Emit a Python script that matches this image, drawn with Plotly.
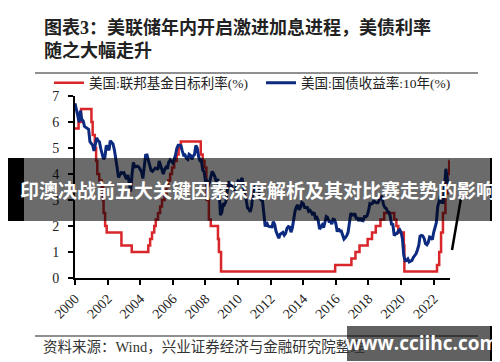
import plotly.graph_objects as go
import pandas as pd

# ---- data ----
fed_dates = ["2000-01-01", "2000-03-21", "2000-05-16",
             "2001-01-03", "2001-01-31", "2001-03-20", "2001-04-18", "2001-05-15", "2001-06-27",
             "2001-08-21", "2001-09-17", "2001-10-02", "2001-11-06", "2001-12-11",
             "2002-11-06", "2003-06-25",
             "2004-06-30", "2004-08-10", "2004-09-21", "2004-11-10", "2004-12-14",
             "2005-02-02", "2005-03-22", "2005-05-03", "2005-06-30", "2005-08-09", "2005-09-20",
             "2005-11-01", "2005-12-13",
             "2006-01-31", "2006-03-28", "2006-05-10", "2006-06-29",
             "2007-09-18", "2007-10-31", "2007-12-11",
             "2008-01-22", "2008-01-30", "2008-03-18", "2008-04-30", "2008-10-08", "2008-10-29", "2008-12-16",
             "2015-12-16", "2016-12-14", "2017-03-15", "2017-06-14", "2017-12-13",
             "2018-03-21", "2018-06-13", "2018-09-26", "2018-12-19",
             "2019-07-31", "2019-09-18", "2019-10-30",
             "2020-03-03", "2020-03-15",
             "2022-03-16", "2022-05-04", "2022-06-15", "2022-07-27", "2022-09-21", "2022-11-02",
             "2022-12-14", "2022-12-20"]
fed_rate = [5.75, 6.0, 6.5,
            6.0, 5.5, 5.0, 4.5, 4.0, 3.75,
            3.5, 3.0, 2.5, 2.0, 1.75,
            1.25, 1.0,
            1.25, 1.5, 1.75, 2.0, 2.25,
            2.5, 2.75, 3.0, 3.25, 3.5, 3.75,
            4.0, 4.25,
            4.5, 4.75, 5.0, 5.25,
            4.75, 4.5, 4.25,
            3.5, 3.0, 2.25, 2.0, 1.5, 1.0, 0.25,
            0.5, 0.75, 1.0, 1.25, 1.5,
            1.75, 2.0, 2.25, 2.5,
            2.25, 2.0, 1.75,
            1.25, 0.25,
            0.5, 1.0, 1.75, 2.5, 3.25, 4.0,
            4.5, 4.5]

ust10y = [
    6.72, 6.52, 6.26, 5.99, 6.44, 6.10, 6.05, 5.83, 5.80, 5.74, 5.72, 5.24,
    5.16, 5.10, 4.89, 5.14, 5.39, 5.28, 5.24, 4.97, 4.73, 4.57, 4.65, 5.09,
    5.04, 4.91, 5.28, 5.21, 5.16, 4.93, 4.65, 4.26, 3.87, 3.94, 4.05, 4.03,
    4.05, 3.90, 3.81, 3.96, 3.57, 3.33, 3.98, 4.45, 4.27, 4.29, 4.30, 4.27,
    4.15, 4.08, 3.83, 4.35, 4.72, 4.73, 4.50, 4.28, 4.13, 4.10, 4.19, 4.23,
    4.22, 4.17, 4.50, 4.34, 4.14, 4.00, 4.18, 4.26, 4.20, 4.46, 4.54, 4.47,
    4.42, 4.57, 4.72, 4.99, 5.11, 5.11, 5.09, 4.88, 4.72, 4.73, 4.60, 4.56,
    4.76, 4.72, 4.56, 4.69, 4.75, 5.10, 5.00, 4.67, 4.52, 4.53, 4.15, 4.10,
    3.74, 3.74, 3.51, 3.68, 3.88, 4.10, 4.01, 3.89, 3.69, 3.81, 3.53, 2.42,
    2.52, 2.87, 2.82, 2.93, 3.29, 3.72, 3.56, 3.59, 3.40, 3.39, 3.40, 3.59,
    3.73, 3.69, 3.73, 3.85, 3.42, 3.20, 3.01, 2.70, 2.65, 2.54, 2.76, 3.29,
    3.39, 3.58, 3.41, 3.46, 3.17, 3.00, 3.00, 2.30, 1.98, 2.15, 2.01, 1.98,
    1.97, 1.97, 2.17, 2.05, 1.80, 1.62, 1.53, 1.68, 1.72, 1.75, 1.65, 1.72,
    1.91, 1.98, 1.96, 1.76, 1.93, 2.30, 2.58, 2.74, 2.81, 2.62, 2.72, 2.90,
    2.86, 2.71, 2.72, 2.71, 2.56, 2.60, 2.54, 2.42, 2.53, 2.30, 2.33, 2.21,
    1.88, 1.98, 2.04, 1.94, 2.20, 2.36, 2.32, 2.17, 2.17, 2.07, 2.26, 2.24,
    2.09, 1.78, 1.89, 1.81, 1.81, 1.64, 1.50, 1.56, 1.63, 1.76, 2.14, 2.49,
    2.43, 2.42, 2.48, 2.30, 2.30, 2.19, 2.32, 2.21, 2.20, 2.36, 2.35, 2.40,
    2.58, 2.86, 2.84, 2.87, 2.98, 2.91, 2.89, 2.89, 3.00, 3.15, 3.12, 2.83,
    2.71, 2.68, 2.57, 2.53, 2.40, 2.07, 2.06, 1.63, 1.70, 1.71, 1.81, 1.86,
    1.76, 1.50, 0.87, 0.66, 0.67, 0.73, 0.62, 0.65, 0.68, 0.79, 0.87, 0.93,
    1.08, 1.26, 1.61, 1.64, 1.62, 1.52, 1.32, 1.28, 1.37, 1.58, 1.56, 1.47,
    1.76, 1.93, 2.13, 2.75, 2.90, 3.14, 2.90, 2.90, 3.52, 4.20, 3.80, 3.62,
]
ust_dates = pd.date_range("2000-01-01", periods=len(ust10y), freq="MS")

y_ticks = [0, 1, 2, 3, 4, 5, 6, 7]

title_text = "<b>图表3：美联储年内开启激进加息进程，美债利率<br>随之大幅走升</b>"
source_text = "资料来源：Wind，兴业证券经济与金融研究院整理"
overlay_text = "<b>印澳决战前五大关键因素深度解析及其对比赛走势的影响</b>"
watermark_text = "<b>www.cciihc.com</b>"

# ---- layout geometry (pixels) ----
W, H = 500, 362
L, R, T, B = 67, 58, 0, 92
PW, PH = W - L - R, H - T - B
PLOT_TOP = 88  # pixel row of y = 7


def px(x):
    return (x - L) / PW


def py(y):
    return (H - B - y) / PH


SERIF = "Liberation Serif, Noto Sans CJK SC, serif"
SANS = "Noto Sans CJK SC, Noto Sans, sans-serif"

fig = go.Figure()
fig.add_trace(go.Scatter(x=fed_dates, y=fed_rate, mode="lines", line_shape="hv",
                         name="美国:联邦基金目标利率(%)", legend="legend",
                         line=dict(color="#d8262b", width=2.5)))
fig.add_trace(go.Scatter(x=ust_dates, y=ust10y, mode="lines",
                         name="美国:国债收益率:10年(%)", legend="legend2",
                         line=dict(color="#0b2a80", width=3)))

leg_common = dict(orientation="h", xref="paper", yref="paper",
                  xanchor="left", yanchor="middle",
                  font=dict(family=SERIF, size=13.5, color="#222"),
                  bgcolor="rgba(0,0,0,0)", borderwidth=0)

fig.update_layout(
    width=W, height=H,
    margin=dict(l=L, r=R, t=T, b=B, autoexpand=False),
    paper_bgcolor="white", plot_bgcolor="white",
    showlegend=True,
    legend=dict(x=px(41), y=py(75), **leg_common),
    legend2=dict(x=px(253), y=py(75), **leg_common),
    xaxis=dict(type="date", range=["2000-01-01", "2023-01-01"],
               dtick="M24", tick0="2000-01-01", tickformat="%Y",
               tickangle=-45, showgrid=False, zeroline=False,
               showline=True, linecolor="black", linewidth=2,
               ticks="outside", ticklen=5, tickwidth=1.5, tickcolor="black",
               tickfont=dict(family=SERIF, size=14, color="#222")),
    yaxis=dict(range=[0, 7], tickvals=y_ticks, showgrid=False, zeroline=False,
               domain=[0, py(PLOT_TOP)],
               showline=True, linecolor="black", linewidth=2,
               ticks="outside", ticklen=5, tickwidth=1.5, tickcolor="black",
               ticklabelstandoff=6,
               tickfont=dict(family=SERIF, size=14, color="#222")),
)

shapes = [
    # rule under title
    dict(type="line", xref="paper", yref="paper", x0=px(27), x1=px(470), y0=py(65), y1=py(65),
         line=dict(color="#222", width=1.2)),
    # rule above source
    dict(type="line", xref="paper", yref="paper", x0=px(27), x1=px(470), y0=py(328), y1=py(328),
         line=dict(color="#222", width=1.2)),
    # overlay band
    dict(type="rect", xref="paper", yref="paper", x0=px(16), x1=px(482), y0=py(213), y1=py(150),
         fillcolor="rgba(0,0,0,0.58)", line=dict(width=0), layer="above"),
    dict(type="rect", xref="paper", yref="paper", x0=px(0), x1=px(16), y0=py(213), y1=py(150),
         fillcolor="black", line=dict(width=0), layer="above"),
    dict(type="rect", xref="paper", yref="paper", x0=px(482), x1=px(500), y0=py(213), y1=py(150),
         fillcolor="black", line=dict(width=0), layer="above"),
    # stray stroke at right
    dict(type="line", xref="paper", yref="paper", x0=px(453), x1=px(444), y0=py(190), y1=py(242),
         line=dict(color="black", width=2.5), layer="above"),
    # watermark box
    dict(type="rect", xref="paper", yref="paper", x0=px(339), x1=px(482), y0=py(353), y1=py(318),
         fillcolor="rgba(0,0,0,0.62)", line=dict(width=0), layer="above"),
    dict(type="rect", xref="paper", yref="paper", x0=px(482), x1=px(491), y0=py(353), y1=py(318),
         fillcolor="black", line=dict(width=0), layer="above"),
]
fig.update_layout(shapes=shapes)

fig.add_annotation(text=title_text, xref="paper", yref="paper", x=px(34), y=py(7),
                   xanchor="left", yanchor="top", align="left", showarrow=False,
                   font=dict(family=SERIF, size=18, color="#222"))
fig.add_annotation(text=source_text, xref="paper", yref="paper", x=px(33), y=py(339),
                   xanchor="left", yanchor="middle", showarrow=False,
                   font=dict(family=SERIF, size=14.5, color="#333"))
fig.add_annotation(text=overlay_text, xref="paper", yref="paper", x=px(249), y=py(181),
                   xanchor="center", yanchor="middle", showarrow=False,
                   font=dict(family=SANS, size=19, color="white"))
fig.add_annotation(text=watermark_text, xref="paper", yref="paper", x=px(413), y=py(335),
                   xanchor="center", yanchor="middle", showarrow=False,
                   font=dict(family="Open Sans, DejaVu Sans, sans-serif", size=19, color="white"))

fig.write_html("out.html")
